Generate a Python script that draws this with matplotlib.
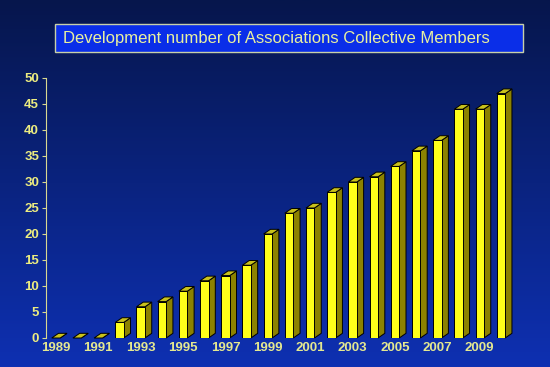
import numpy as np
import matplotlib.pyplot as plt
from matplotlib.patches import Polygon, Rectangle

years = list(range(1989, 2011))
members = [0, 0, 0, 3, 6, 7, 9, 11, 12, 14, 20, 24, 25, 28, 30, 31, 33, 36, 38, 44, 44, 47]
tick_years = list(range(1989, 2010, 2))
y_ticks = list(range(0, 51, 5))
title = "Development number of Associations Collective Members"

plt.rcParams['font.family'] = ['Liberation Sans', 'DejaVu Sans']

fig = plt.figure(figsize=(5.5, 3.67), dpi=100)

# background gradient
bg = fig.add_axes([0, 0, 1, 1])
grad = np.linspace(0, 1, 256).reshape(-1, 1)
top = np.array([6, 22, 76]) / 255
bot = np.array([14, 48, 178]) / 255
img = top + (bot - top) * grad[:, :, None]
bg.imshow(img, aspect='auto', extent=[0, 1, 0, 1])
bg.axis('off')

ax = fig.add_axes([46/550, 29/367, 474/550, 260/367])
ax.patch.set_alpha(0)
ax.set_xlim(1988.53, 2010.9)
ax.set_ylim(0, 50)

w = 0.40
dx = 0.32
dy = 0.9
front_c = '#ffff1a'
side_c = '#8c8200'
top_c = '#c9c21c'

for x, h in zip(years, members):
    x0 = x - w / 2
    x1 = x + w / 2
    side = Polygon([(x1, 0), (x1 + dx, dy), (x1 + dx, h + dy), (x1, h)],
                   closed=True, facecolor=side_c, edgecolor='black', lw=0.7, clip_on=False)
    ax.add_patch(side)
    cap = Polygon([(x0, h), (x0 + dx, h + dy), (x1 + dx, h + dy), (x1, h)],
                  closed=True, facecolor=top_c, edgecolor='black', lw=0.7, clip_on=False)
    ax.add_patch(cap)
    if h > 0:
        ax.bar(x, h, width=w, color=front_c, edgecolor='black', lw=0.7)

ax.set_yticks(y_ticks)
ax.set_xticks(tick_years)
ax.set_xticklabels([str(t) for t in tick_years])
for s in ['top', 'right', 'bottom']:
    ax.spines[s].set_visible(False)
ax.spines['left'].set_color('#d8d890')
ax.tick_params(axis='y', colors='#d8d890', labelcolor='#ecec80', length=3, labelsize=9.5, pad=2)
ax.tick_params(axis='x', length=0, labelcolor='#e4e890', labelsize=9.5, pad=3)
for lbl in ax.get_xticklabels() + ax.get_yticklabels():
    lbl.set_fontweight('bold')

# title box
box = Rectangle((55/550, 1 - 52/367), 468/550, 28/367, transform=fig.transFigure,
                facecolor='#0a2ee8', edgecolor='#c8d0a8', lw=1)
fig.patches.append(box)
fig.text(63/550, 1 - 38/367, title, color='#e8f0a0', fontsize=12, va='center', ha='left')

fig.savefig('out.png', dpi=100)
